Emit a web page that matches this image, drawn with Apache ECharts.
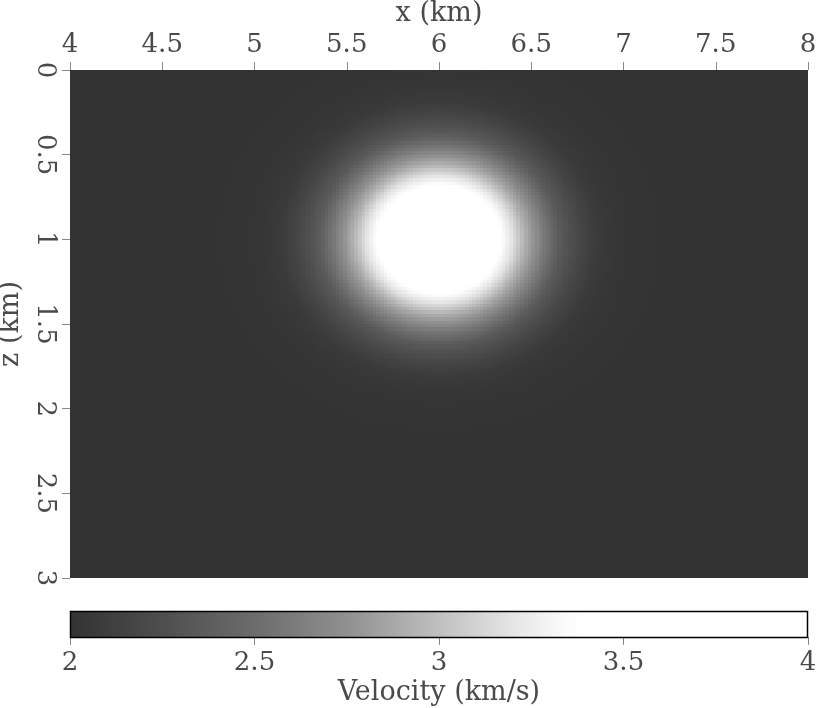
<!DOCTYPE html>
<html>
<head>
<meta charset="utf-8">
<script src="https://cdn.jsdelivr.net/npm/echarts@6/dist/echarts.min.js"></script>
<style>
  html, body { margin: 0; padding: 0; background: #fff; }
  #chart { width: 816px; height: 708px; }
</style>
</head>
<body>
<div id="chart"></div>
<script>
// model extent (km)
var xRange = [4, 8];
var zRange = [0, 3];
var xTicks = [4, 4.5, 5, 5.5, 6, 6.5, 7, 7.5, 8];
var zTicks = [0, 0.5, 1, 1.5, 2, 2.5, 3];
var velTicks = [2, 2.5, 3, 3.5, 4];

// anomaly: centre, horizontal radial profile, vertical squeeze
var anomalyCenter = [6, 1];
var profileRadius = [0, 0.2, 0.3, 0.34, 0.40, 0.47, 0.56, 0.655, 0.755, 0.86, 0.97, 1.1, 1.3];
var profileVelocity = [4.0, 3.8, 3.5, 3.37, 3.17, 2.9, 2.62, 2.35, 2.19, 2.07, 2.03, 2.01, 2.0];
var zSqueeze = 0.95;
var background = 2.0;

// gray ramp of the colour bar (value -> gray level)
var rampValue = [2, 2.25, 2.5, 2.75, 3, 3.2, 3.37, 4];
var rampGray = [51, 78, 108, 144, 192, 230, 255, 255];

var cell = 0.02;

function lerp(xs, ys, x) {
    if (x <= xs[0]) return ys[0];
    for (var i = 1; i < xs.length; i++) {
        if (x <= xs[i]) {
            var t = (x - xs[i - 1]) / (xs[i] - xs[i - 1]);
            return ys[i - 1] + t * (ys[i] - ys[i - 1]);
        }
    }
    return ys[ys.length - 1];
}

var field = [];
for (var x = xRange[0] + cell / 2; x < xRange[1]; x += cell) {
    for (var z = zRange[0] + cell / 2; z < zRange[1]; z += cell) {
        var dx = x - anomalyCenter[0];
        var dz = (z - anomalyCenter[1]) / zSqueeze;
        var r = Math.sqrt(dx * dx + dz * dz);
        var v = r > profileRadius[profileRadius.length - 1] ? background : lerp(profileRadius, profileVelocity, r);
        field.push([x, z, v]);
    }
}

var barStep = 0.005;
var bar = [];
for (var b = 2 + barStep / 2; b < 4; b += barStep) {
    bar.push([b, 0.5, b]);
}

var stops = [];
for (var s = 2; s <= 4.0001; s += 0.05) {
    var g = Math.round(lerp(rampValue, rampGray, s));
    stops.push('rgb(' + g + ',' + g + ',' + g + ')');
}

var font = 'DejaVu Serif';
var txt = '#4a4a4a';

// pixel-snapped rectangles so neighbouring cells leave no seams
function cellRect(w, h) {
    return function (params, api) {
        var p0 = api.coord([api.value(0) - w / 2, api.value(1) - h / 2]);
        var p1 = api.coord([api.value(0) + w / 2, api.value(1) + h / 2]);
        var x0 = Math.round(Math.min(p0[0], p1[0]));
        var x1 = Math.round(Math.max(p0[0], p1[0]));
        var y0 = Math.round(Math.min(p0[1], p1[1]));
        var y1 = Math.round(Math.max(p0[1], p1[1]));
        return {
            type: 'rect',
            shape: { x: x0, y: y0, width: x1 - x0, height: y1 - y0 },
            style: { fill: api.visual('color'), stroke: null }
        };
    };
}

var chart = echarts.init(document.getElementById('chart'));
chart.setOption({
    animation: false,
    backgroundColor: '#fff',
    textStyle: { fontFamily: font },
    grid: [
        { left: 70, top: 70, width: 738, height: 508, outerBoundsMode: 'none', containLabel: false },
        { left: 70, top: 611, width: 738, height: 26, outerBoundsMode: 'none', containLabel: false }
    ],
    xAxis: [{
        type: 'value', gridIndex: 0, position: 'top',
        min: xRange[0], max: xRange[1], interval: 0.5,
        name: 'x (km)', nameLocation: 'middle', nameGap: 42,
        nameTextStyle: { fontFamily: font, fontSize: 27, color: txt },
        axisLine: { show: false },
        axisTick: { show: true, length: 8, lineStyle: { color: '#888' } },
        axisLabel: { fontFamily: font, fontSize: 26, color: txt, margin: 12 },
        splitLine: { show: false }
    }, {
        type: 'value', gridIndex: 1, position: 'bottom',
        min: velTicks[0], max: velTicks[velTicks.length - 1], interval: 0.5,
        name: 'Velocity (km/s)', nameLocation: 'middle', nameGap: 42,
        nameTextStyle: { fontFamily: font, fontSize: 27, color: txt },
        axisLine: { show: false },
        axisTick: { show: true, length: 8, lineStyle: { color: '#888' } },
        axisLabel: { fontFamily: font, fontSize: 26, color: txt, margin: 13 },
        splitLine: { show: false }
    }],
    yAxis: [{
        type: 'value', gridIndex: 0, inverse: true,
        min: zRange[0], max: zRange[1], interval: 0.5,
        name: 'z (km)', nameLocation: 'middle', nameGap: 43, nameRotate: 90,
        nameTextStyle: { fontFamily: font, fontSize: 27, color: txt },
        axisLine: { show: false },
        axisTick: { show: true, length: 8, lineStyle: { color: '#888' } },
        axisLabel: { fontFamily: font, fontSize: 26, color: txt, margin: 12, rotate: -90 },
        splitLine: { show: false }
    }, {
        type: 'value', gridIndex: 1, min: 0, max: 1, show: false
    }],
    visualMap: {
        type: 'continuous', show: false, min: 2, max: 4, dimension: 2,
        seriesIndex: [0, 1], inRange: { color: stops }
    },
    graphic: [{
        type: 'rect', z: 100,
        shape: { x: 70.5, y: 611.5, width: 737, height: 26 },
        style: { fill: null, stroke: '#000', lineWidth: 1.5 }
    }],
    series: [{
        type: 'custom', xAxisIndex: 0, yAxisIndex: 0,
        data: field, renderItem: cellRect(cell, cell),
        progressive: 0, silent: true
    }, {
        type: 'custom', xAxisIndex: 1, yAxisIndex: 1,
        data: bar, renderItem: cellRect(barStep, 1),
        progressive: 0, silent: true
    }]
});
</script>
</body>
</html>
